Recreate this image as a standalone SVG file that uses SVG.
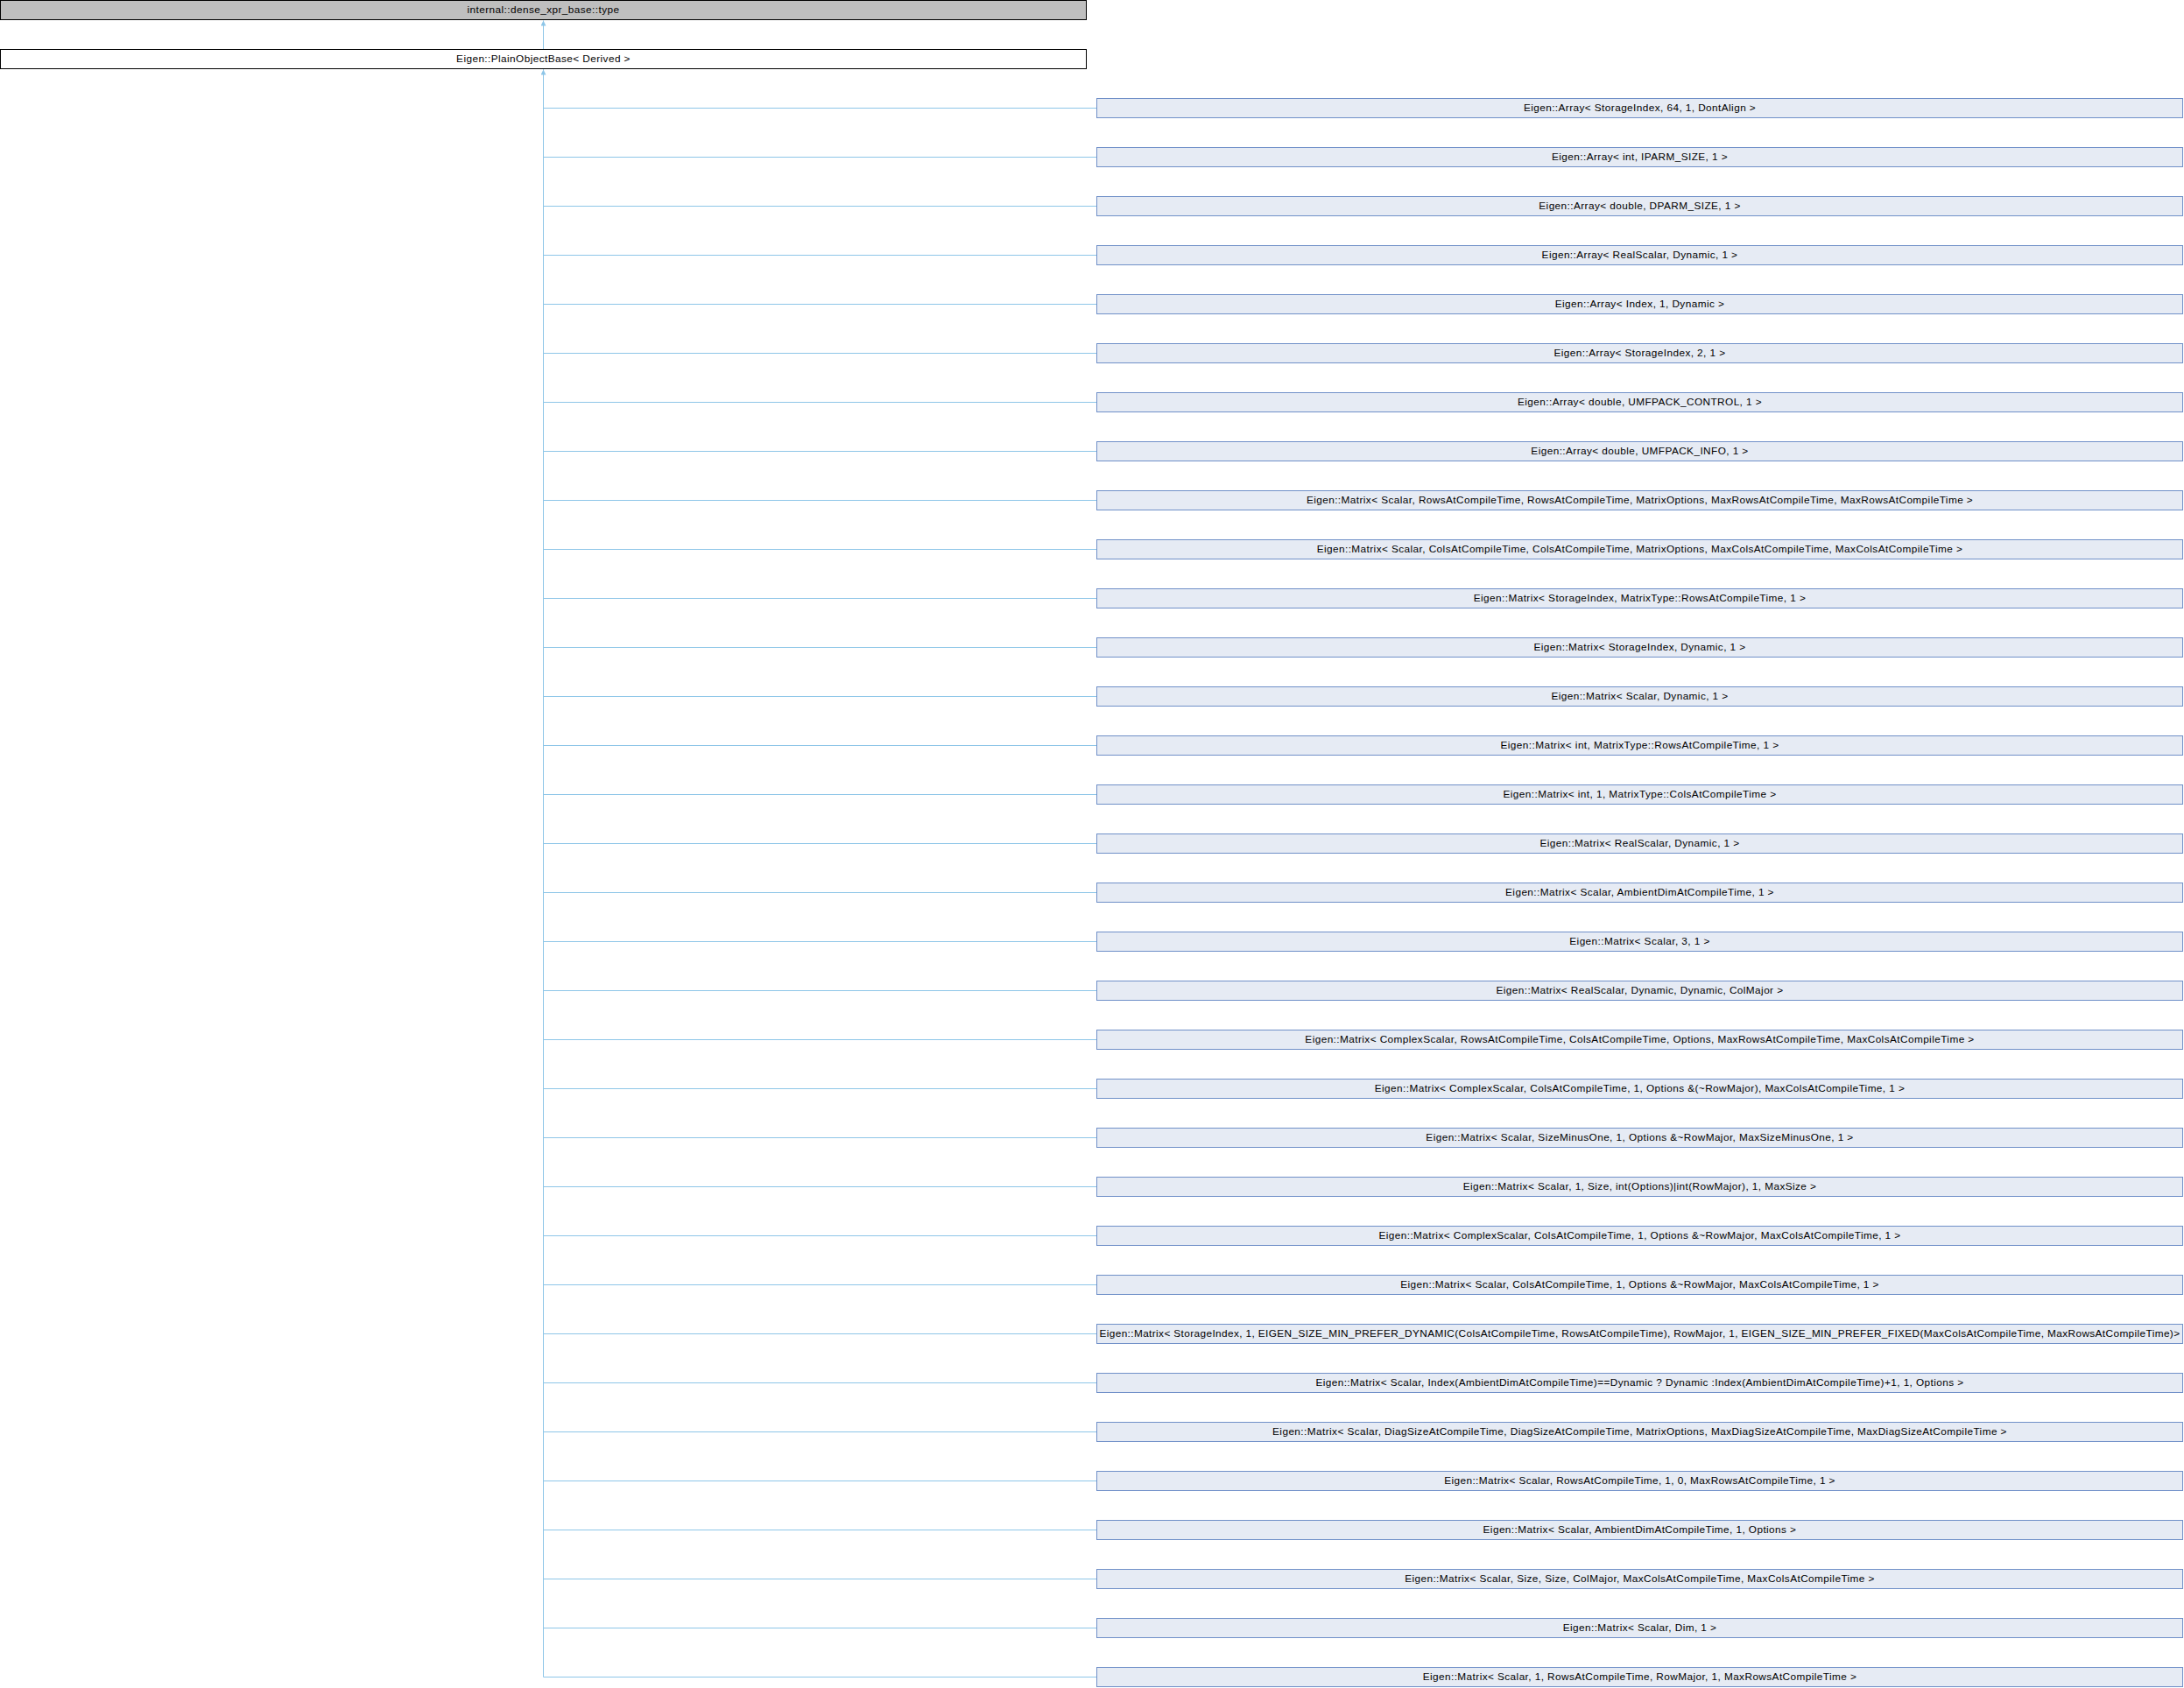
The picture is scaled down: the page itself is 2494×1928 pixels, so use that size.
<svg xmlns="http://www.w3.org/2000/svg" width="2494" height="1928" viewBox="0 0 2494 1928">
<style>
.t{font-family:"Liberation Sans",Arial,sans-serif;font-size:11.8px;letter-spacing:0.42px;text-anchor:middle;fill:#000}
.top{fill:#bfbfbf;stroke:#000;stroke-width:1}
.base{fill:#fff;stroke:#000;stroke-width:1}
.d{fill:#e6ebf4;stroke:#7090c8;stroke-width:1}
.e{fill:none;stroke:#8ec6e8;stroke-width:1}
</style>
<defs>
<marker id="ah" markerUnits="userSpaceOnUse" viewBox="0 0 10 10" refX="10" refY="5" markerWidth="7" markerHeight="6" orient="auto">
<path d="M0,0 L10,5 L0,10 z" fill="#8ec6e8"/>
</marker>
</defs>
<rect width="2494" height="1928" fill="#fff"/>
<g id="connectors">
<path class="e" d="M620.5,56 V23.5" marker-end="url(#ah)"/>
<path class="e" d="M1252,123.5 H620.5 V79.5" marker-end="url(#ah)"/>
<path class="e" d="M1252,179.5 H620.5 V79.5"/>
<path class="e" d="M1252,235.5 H620.5 V79.5"/>
<path class="e" d="M1252,291.5 H620.5 V79.5"/>
<path class="e" d="M1252,347.5 H620.5 V79.5"/>
<path class="e" d="M1252,403.5 H620.5 V79.5"/>
<path class="e" d="M1252,459.5 H620.5 V79.5"/>
<path class="e" d="M1252,515.5 H620.5 V79.5"/>
<path class="e" d="M1252,571.5 H620.5 V79.5"/>
<path class="e" d="M1252,627.5 H620.5 V79.5"/>
<path class="e" d="M1252,683.5 H620.5 V79.5"/>
<path class="e" d="M1252,739.5 H620.5 V79.5"/>
<path class="e" d="M1252,795.5 H620.5 V79.5"/>
<path class="e" d="M1252,851.5 H620.5 V79.5"/>
<path class="e" d="M1252,907.5 H620.5 V79.5"/>
<path class="e" d="M1252,963.5 H620.5 V79.5"/>
<path class="e" d="M1252,1019.5 H620.5 V79.5"/>
<path class="e" d="M1252,1075.5 H620.5 V79.5"/>
<path class="e" d="M1252,1131.5 H620.5 V79.5"/>
<path class="e" d="M1252,1187.5 H620.5 V79.5"/>
<path class="e" d="M1252,1243.5 H620.5 V79.5"/>
<path class="e" d="M1252,1299.5 H620.5 V79.5"/>
<path class="e" d="M1252,1355.5 H620.5 V79.5"/>
<path class="e" d="M1252,1411.5 H620.5 V79.5"/>
<path class="e" d="M1252,1467.5 H620.5 V79.5"/>
<path class="e" d="M1252,1523.5 H620.5 V79.5"/>
<path class="e" d="M1252,1579.5 H620.5 V79.5"/>
<path class="e" d="M1252,1635.5 H620.5 V79.5"/>
<path class="e" d="M1252,1691.5 H620.5 V79.5"/>
<path class="e" d="M1252,1747.5 H620.5 V79.5"/>
<path class="e" d="M1252,1803.5 H620.5 V79.5"/>
<path class="e" d="M1252,1859.5 H620.5 V79.5"/>
<path class="e" d="M1252,1915.5 H620.5 V79.5"/>
</g>
<g id="n_top"><rect class="top" x="0.5" y="0.5" width="1240" height="22"/><text class="t" x="620.5" y="15">internal::dense_xpr_base::type</text></g>
<g id="n_base"><rect class="base" x="0.5" y="56.5" width="1240" height="22"/><text class="t" x="620.5" y="71">Eigen::PlainObjectBase&lt; Derived &gt;</text></g>
<g id="n1"><rect class="d" x="1252.5" y="112.5" width="1240" height="22"/><text class="t" x="1872.5" y="126.5">Eigen::Array&lt; StorageIndex, 64, 1, DontAlign &gt;</text></g>
<g id="n2"><rect class="d" x="1252.5" y="168.5" width="1240" height="22"/><text class="t" x="1872.5" y="182.5">Eigen::Array&lt; int, IPARM_SIZE, 1 &gt;</text></g>
<g id="n3"><rect class="d" x="1252.5" y="224.5" width="1240" height="22"/><text class="t" x="1872.5" y="238.5">Eigen::Array&lt; double, DPARM_SIZE, 1 &gt;</text></g>
<g id="n4"><rect class="d" x="1252.5" y="280.5" width="1240" height="22"/><text class="t" x="1872.5" y="294.5">Eigen::Array&lt; RealScalar, Dynamic, 1 &gt;</text></g>
<g id="n5"><rect class="d" x="1252.5" y="336.5" width="1240" height="22"/><text class="t" x="1872.5" y="350.5">Eigen::Array&lt; Index, 1, Dynamic &gt;</text></g>
<g id="n6"><rect class="d" x="1252.5" y="392.5" width="1240" height="22"/><text class="t" x="1872.5" y="406.5">Eigen::Array&lt; StorageIndex, 2, 1 &gt;</text></g>
<g id="n7"><rect class="d" x="1252.5" y="448.5" width="1240" height="22"/><text class="t" x="1872.5" y="462.5">Eigen::Array&lt; double, UMFPACK_CONTROL, 1 &gt;</text></g>
<g id="n8"><rect class="d" x="1252.5" y="504.5" width="1240" height="22"/><text class="t" x="1872.5" y="518.5">Eigen::Array&lt; double, UMFPACK_INFO, 1 &gt;</text></g>
<g id="n9"><rect class="d" x="1252.5" y="560.5" width="1240" height="22"/><text class="t" x="1872.5" y="574.5">Eigen::Matrix&lt; Scalar, RowsAtCompileTime, RowsAtCompileTime, MatrixOptions, MaxRowsAtCompileTime, MaxRowsAtCompileTime &gt;</text></g>
<g id="n10"><rect class="d" x="1252.5" y="616.5" width="1240" height="22"/><text class="t" x="1872.5" y="630.5">Eigen::Matrix&lt; Scalar, ColsAtCompileTime, ColsAtCompileTime, MatrixOptions, MaxColsAtCompileTime, MaxColsAtCompileTime &gt;</text></g>
<g id="n11"><rect class="d" x="1252.5" y="672.5" width="1240" height="22"/><text class="t" x="1872.5" y="686.5">Eigen::Matrix&lt; StorageIndex, MatrixType::RowsAtCompileTime, 1 &gt;</text></g>
<g id="n12"><rect class="d" x="1252.5" y="728.5" width="1240" height="22"/><text class="t" x="1872.5" y="742.5">Eigen::Matrix&lt; StorageIndex, Dynamic, 1 &gt;</text></g>
<g id="n13"><rect class="d" x="1252.5" y="784.5" width="1240" height="22"/><text class="t" x="1872.5" y="798.5">Eigen::Matrix&lt; Scalar, Dynamic, 1 &gt;</text></g>
<g id="n14"><rect class="d" x="1252.5" y="840.5" width="1240" height="22"/><text class="t" x="1872.5" y="854.5">Eigen::Matrix&lt; int, MatrixType::RowsAtCompileTime, 1 &gt;</text></g>
<g id="n15"><rect class="d" x="1252.5" y="896.5" width="1240" height="22"/><text class="t" x="1872.5" y="910.5">Eigen::Matrix&lt; int, 1, MatrixType::ColsAtCompileTime &gt;</text></g>
<g id="n16"><rect class="d" x="1252.5" y="952.5" width="1240" height="22"/><text class="t" x="1872.5" y="966.5">Eigen::Matrix&lt; RealScalar, Dynamic, 1 &gt;</text></g>
<g id="n17"><rect class="d" x="1252.5" y="1008.5" width="1240" height="22"/><text class="t" x="1872.5" y="1022.5">Eigen::Matrix&lt; Scalar, AmbientDimAtCompileTime, 1 &gt;</text></g>
<g id="n18"><rect class="d" x="1252.5" y="1064.5" width="1240" height="22"/><text class="t" x="1872.5" y="1078.5">Eigen::Matrix&lt; Scalar, 3, 1 &gt;</text></g>
<g id="n19"><rect class="d" x="1252.5" y="1120.5" width="1240" height="22"/><text class="t" x="1872.5" y="1134.5">Eigen::Matrix&lt; RealScalar, Dynamic, Dynamic, ColMajor &gt;</text></g>
<g id="n20"><rect class="d" x="1252.5" y="1176.5" width="1240" height="22"/><text class="t" x="1872.5" y="1190.5">Eigen::Matrix&lt; ComplexScalar, RowsAtCompileTime, ColsAtCompileTime, Options, MaxRowsAtCompileTime, MaxColsAtCompileTime &gt;</text></g>
<g id="n21"><rect class="d" x="1252.5" y="1232.5" width="1240" height="22"/><text class="t" x="1872.5" y="1246.5">Eigen::Matrix&lt; ComplexScalar, ColsAtCompileTime, 1, Options &amp;(~RowMajor), MaxColsAtCompileTime, 1 &gt;</text></g>
<g id="n22"><rect class="d" x="1252.5" y="1288.5" width="1240" height="22"/><text class="t" x="1872.5" y="1302.5">Eigen::Matrix&lt; Scalar, SizeMinusOne, 1, Options &amp;~RowMajor, MaxSizeMinusOne, 1 &gt;</text></g>
<g id="n23"><rect class="d" x="1252.5" y="1344.5" width="1240" height="22"/><text class="t" x="1872.5" y="1358.5">Eigen::Matrix&lt; Scalar, 1, Size, int(Options)|int(RowMajor), 1, MaxSize &gt;</text></g>
<g id="n24"><rect class="d" x="1252.5" y="1400.5" width="1240" height="22"/><text class="t" x="1872.5" y="1414.5">Eigen::Matrix&lt; ComplexScalar, ColsAtCompileTime, 1, Options &amp;~RowMajor, MaxColsAtCompileTime, 1 &gt;</text></g>
<g id="n25"><rect class="d" x="1252.5" y="1456.5" width="1240" height="22"/><text class="t" x="1872.5" y="1470.5">Eigen::Matrix&lt; Scalar, ColsAtCompileTime, 1, Options &amp;~RowMajor, MaxColsAtCompileTime, 1 &gt;</text></g>
<g id="n26"><rect class="d" x="1252.5" y="1512.5" width="1240" height="22"/><text class="t" x="1872.5" y="1526.5" textLength="1234" lengthAdjust="spacing">Eigen::Matrix&lt; StorageIndex, 1, EIGEN_SIZE_MIN_PREFER_DYNAMIC(ColsAtCompileTime, RowsAtCompileTime), RowMajor, 1, EIGEN_SIZE_MIN_PREFER_FIXED(MaxColsAtCompileTime, MaxRowsAtCompileTime)&gt;</text></g>
<g id="n27"><rect class="d" x="1252.5" y="1568.5" width="1240" height="22"/><text class="t" x="1872.5" y="1582.5">Eigen::Matrix&lt; Scalar, Index(AmbientDimAtCompileTime)==Dynamic ? Dynamic :Index(AmbientDimAtCompileTime)+1, 1, Options &gt;</text></g>
<g id="n28"><rect class="d" x="1252.5" y="1624.5" width="1240" height="22"/><text class="t" x="1872.5" y="1638.5">Eigen::Matrix&lt; Scalar, DiagSizeAtCompileTime, DiagSizeAtCompileTime, MatrixOptions, MaxDiagSizeAtCompileTime, MaxDiagSizeAtCompileTime &gt;</text></g>
<g id="n29"><rect class="d" x="1252.5" y="1680.5" width="1240" height="22"/><text class="t" x="1872.5" y="1694.5">Eigen::Matrix&lt; Scalar, RowsAtCompileTime, 1, 0, MaxRowsAtCompileTime, 1 &gt;</text></g>
<g id="n30"><rect class="d" x="1252.5" y="1736.5" width="1240" height="22"/><text class="t" x="1872.5" y="1750.5">Eigen::Matrix&lt; Scalar, AmbientDimAtCompileTime, 1, Options &gt;</text></g>
<g id="n31"><rect class="d" x="1252.5" y="1792.5" width="1240" height="22"/><text class="t" x="1872.5" y="1806.5">Eigen::Matrix&lt; Scalar, Size, Size, ColMajor, MaxColsAtCompileTime, MaxColsAtCompileTime &gt;</text></g>
<g id="n32"><rect class="d" x="1252.5" y="1848.5" width="1240" height="22"/><text class="t" x="1872.5" y="1862.5">Eigen::Matrix&lt; Scalar, Dim, 1 &gt;</text></g>
<g id="n33"><rect class="d" x="1252.5" y="1904.5" width="1240" height="22"/><text class="t" x="1872.5" y="1918.5">Eigen::Matrix&lt; Scalar, 1, RowsAtCompileTime, RowMajor, 1, MaxRowsAtCompileTime &gt;</text></g>
</svg>
